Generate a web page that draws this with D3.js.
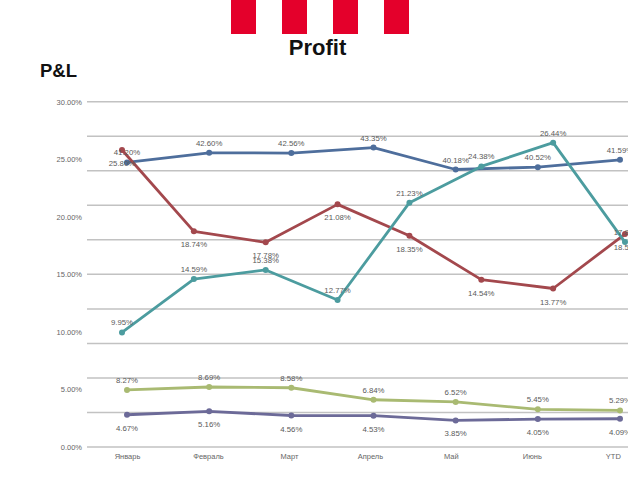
<!DOCTYPE html>
<html>
<head>
<meta charset="utf-8">
<script src="https://cdn.jsdelivr.net/npm/d3@7"></script>
<style>
  html, body { margin: 0; padding: 0; background: #fff; }
  svg { display: block; font-family: "Liberation Sans", Arial, sans-serif; }
</style>
</head>
<body>
<svg id="chart" width="640" height="480"></svg>
<script>
// ---- data ----
const categories = ["Январь", "Февраль", "Март", "Апрель", "Май", "Июнь", "YTD"];
const periodsPrimary = ["1", "2", "3", "4", "5", "6", "7", "8"];
const primaryTicks = [0, 5, 10, 15, 20, 25, 30];
const secondaryGrid = [0, 5, 10, 15, 20, 25, 30, 35, 40, 45, 50];

// secondary axis series (7 points)
const blueValues   = [41.20, 42.60, 42.56, 43.35, 40.18, 40.52, 41.59];
const greenValues  = [8.27, 8.69, 8.58, 6.84, 6.52, 5.45, 5.29];
const purpleValues = [4.67, 5.16, 4.56, 4.53, 3.85, 4.05, 4.09];
// primary axis series (8 points)
const redValues    = [25.80, 18.74, 17.78, 21.08, 18.35, 14.54, 13.77, 18.50];
const tealValues   = [9.95, 14.59, 15.38, 12.77, 21.23, 24.38, 26.44, 17.80];

// ---- layout ----
const svg = d3.select("#chart");
const plot = { left: 87, right: 628, top: 101.7, bottom: 447 };

const yPrimary = d3.scaleLinear().domain([0, 30]).range([plot.bottom, plot.top]);
const ySecondary = d3.scaleLinear().domain([0, 50]).range([plot.bottom, plot.top]);
const xSecondary = d3.scalePoint().domain(categories).range([127, 620]);
const xPrimary = d3.scalePoint().domain(periodsPrimary).range([122, 625]);

// header blocks
const blockX = d3.scaleBand().domain([0, 1, 2, 3]).range([231, 409]).paddingInner(0.51);
svg.append("g").selectAll("rect").data(blockX.domain()).join("rect")
  .attr("x", d => blockX(d)).attr("y", 0)
  .attr("width", blockX.bandwidth()).attr("height", 34)
  .attr("fill", "#e4002b");

svg.append("text").attr("x", 317.5).attr("y", 54.5).attr("text-anchor", "middle")
  .attr("font-size", 22).attr("font-weight", "bold").attr("fill", "#111").text("Profit");
svg.append("text").attr("x", 40).attr("y", 77).attr("text-anchor", "start")
  .attr("font-size", 18.5).attr("font-weight", "bold").attr("fill", "#111").text("P&L");

// clip
svg.append("defs").append("clipPath").attr("id", "plotclip")
  .append("rect").attr("x", 0).attr("y", 80).attr("width", plot.right).attr("height", 400);

// gridlines (from secondary axis)
svg.append("g").selectAll("line").data(secondaryGrid).join("line")
  .attr("x1", plot.left).attr("x2", plot.right)
  .attr("y1", d => ySecondary(d)).attr("y2", d => ySecondary(d))
  .attr("stroke", "#c2c2c2").attr("stroke-width", 1.5);

// primary y axis labels
const yAxis = d3.axisLeft(yPrimary).tickValues(primaryTicks)
  .tickFormat(d => d3.format(".2f")(d) + "%").tickSize(0).tickPadding(0);
const yg = svg.append("g").attr("transform", "translate(82,0)").call(yAxis);
yg.select(".domain").remove();
yg.selectAll("text").attr("font-size", 7.5).attr("fill", "#666")
  .attr("font-family", "Liberation Sans, Arial, sans-serif");

// x axis labels
const xAxis = d3.axisBottom(xSecondary).tickSize(0).tickPadding(0);
const xg = svg.append("g").attr("transform", "translate(0,454)").call(xAxis);
xg.select(".domain").remove();
xg.selectAll("text").attr("font-size", 7.5).attr("fill", "#666")
  .attr("font-family", "Liberation Sans, Arial, sans-serif")
  .attr("dx", (d, i) => -i * 1.2);

const series = [
  { values: blueValues,   x: xSecondary, keys: categories,     y: ySecondary, color: "#4e6e9c", pos: "above" },
  { values: redValues,    x: xPrimary,   keys: periodsPrimary, y: yPrimary,   color: "#a3484d", pos: "below" },
  { values: tealValues,   x: xPrimary,   keys: periodsPrimary, y: yPrimary,   color: "#4c9c9f", pos: "above" },
  { values: greenValues,  x: xSecondary, keys: categories,     y: ySecondary, color: "#a9ba72", pos: "above" },
  { values: purpleValues, x: xSecondary, keys: categories,     y: ySecondary, color: "#6c6a98", pos: "below" }
];

const gLines = svg.append("g").attr("clip-path", "url(#plotclip)");
series.forEach(s => {
  const pts = s.values.map((v, i) => [s.x(s.keys[i]), s.y(v)]);
  gLines.append("path").attr("d", d3.line()(pts))
    .attr("fill", "none").attr("stroke", s.color).attr("stroke-width", 2.8)
    .attr("stroke-linejoin", "round");
  gLines.append("g").selectAll("circle").data(pts).join("circle")
    .attr("cx", d => d[0]).attr("cy", d => d[1]).attr("r", 3)
    .attr("fill", s.color);
});

const gLabels = svg.append("g").attr("clip-path", "url(#plotclip)");
series.forEach(s => {
  gLabels.append("g").selectAll("text").data(s.values).join("text")
    .attr("x", (v, i) => s.x(s.keys[i]) + (s.x === xPrimary && i === s.values.length - 1 ? 2 : 0))
    .attr("y", v => s.y(v) + (s.pos === "above" ? -7 : 16))
    .attr("text-anchor", "middle")
    .attr("font-size", 7.8).attr("fill", "#5a5a5a")
    .text(v => d3.format(".2f")(v) + "%");
});
</script>
</body>
</html>
